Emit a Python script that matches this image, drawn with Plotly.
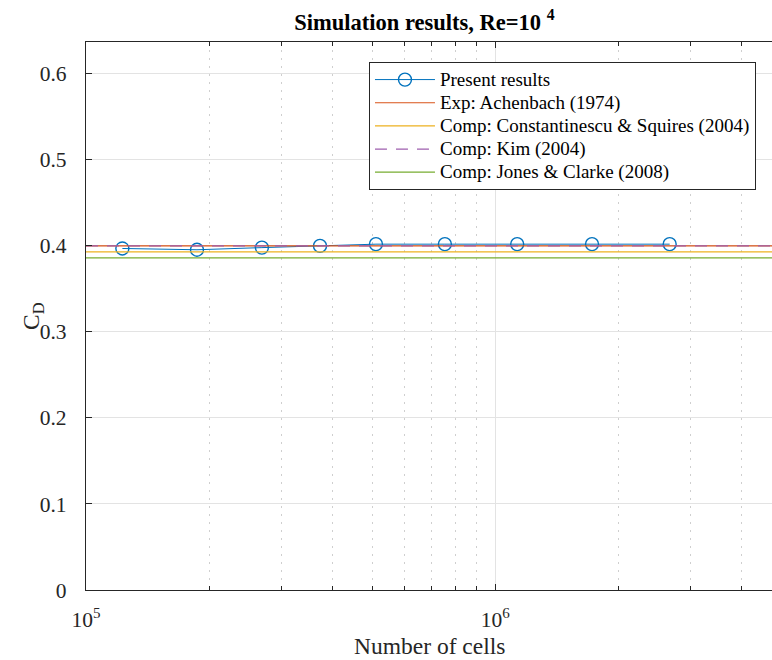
import plotly.graph_objects as go

# ---- data ----
cells = [1.227e5, 1.867e5, 2.69e5, 3.73e5, 5.11e5, 7.53e5, 1.131e6, 1.723e6, 2.667e6]
cd_present = [0.397, 0.3955, 0.398, 0.400, 0.402, 0.402, 0.402, 0.402, 0.402]

ref_x = [1e5, 1e7]
cd_achenbach = 0.400
cd_constantinescu = 0.393
cd_kim = 0.400
cd_jones = 0.386

series_names = ["Present results", "Exp: Achenbach (1974)", "Comp: Constantinescu & Squires (2004)",
                "Comp: Kim (2004)", "Comp: Jones & Clarke (2008)"]

x_tick_vals = [1e5, 1e6]
x_tick_text = ["10<sup>5</sup>", "10<sup>6</sup>"]
y_tick_vals = [0, 0.1, 0.2, 0.3, 0.4, 0.5, 0.6]
y_tick_text = ["0", "0.1", "0.2", "0.3", "0.4", "0.5", "0.6"]
minor_mult = [2, 3, 4, 5, 6, 7, 8, 9]
minor_decades = [1e5, 1e6]

FONT = "Liberation Serif"
AX = "#262626"


def lg(name):
    return '<span style="font-size:19px">' + name.replace("&", "&amp;") + "</span>"


fig = go.Figure()
fig.add_trace(go.Scatter(
    x=cells, y=cd_present, mode="lines+markers", name=lg(series_names[0]),
    line=dict(color="#0072BD", width=1),
    marker=dict(symbol="circle-open", size=13, color="#0072BD", line=dict(width=1.4, color="#0072BD")),
))
fig.add_trace(go.Scatter(x=ref_x, y=[cd_achenbach] * 2, mode="lines", name=lg(series_names[1]),
                         line=dict(color="#D95319", width=1.2)))
fig.add_trace(go.Scatter(x=ref_x, y=[cd_constantinescu] * 2, mode="lines", name=lg(series_names[2]),
                         line=dict(color="#EDB120", width=1.3)))
fig.add_trace(go.Scatter(x=ref_x, y=[cd_kim] * 2, mode="lines", name=lg(series_names[3]),
                         line=dict(color="#9E5FAE", width=1.2, dash="12px,9px")))
fig.add_trace(go.Scatter(x=ref_x, y=[cd_jones] * 2, mode="lines", name=lg(series_names[4]),
                         line=dict(color="#77AC30", width=1.2)))

minor_vals = [d * m for d in minor_decades for m in minor_mult]

fig.update_layout(
    width=772, height=660,
    margin=dict(l=86, r=0, t=42, b=70),
    paper_bgcolor="white", plot_bgcolor="white",
    font=dict(family=FONT, size=21, color="#262626"),
    showlegend=True,
    title=dict(text="<b>Simulation results, Re=10 <sup>4</sup></b>", x=0.4934, xref="paper",
               xanchor="center", y=1 - 22 / 660, yref="container", yanchor="middle",
               font=dict(family=FONT, size=22.5, color="black")),
    legend=dict(x=0.4125, y=0.9635, xanchor="left", yanchor="top",
                bgcolor="white", bordercolor=AX, borderwidth=1,
                font=dict(family=FONT, size=15.5, color="black"),
                itemwidth=60, tracegroupgap=0),
    xaxis=dict(
        type="log", range=[5, 6.676],
        tickmode="array", tickvals=x_tick_vals, ticktext=x_tick_text,
        ticks="inside", ticklen=6, tickcolor=AX, tickwidth=1,
        showline=True, linecolor=AX, linewidth=1.3, mirror="ticks",
        showgrid=True, gridcolor="#e3e3e3", gridwidth=1,
        zeroline=False,
        minor=dict(tickmode="array", tickvals=minor_vals, ticks="inside", ticklen=4,
                   tickcolor=AX, showgrid=True, gridcolor="#cfcfcf", griddash="2px,6px", gridwidth=1),
        tickfont=dict(family=FONT, size=21.5, color="#262626"),
        ticklabelstandoff=10,
        automargin=False,
    ),
    yaxis=dict(
        range=[0, 0.637],
        tickmode="array", tickvals=y_tick_vals, ticktext=y_tick_text,
        ticks="inside", ticklen=6, tickcolor=AX, tickwidth=1,
        showline=True, linecolor=AX, linewidth=1.3, mirror=False,
        showgrid=True, gridcolor="#e3e3e3", gridwidth=1,
        zeroline=False,
        tickfont=dict(family=FONT, size=21.5, color="#262626"),
        ticklabelstandoff=14,
        automargin=False,
    ),
    annotations=[
        dict(text="Number of cells", xref="paper", yref="paper", x=0.5007, y=-56 / 548,
             xanchor="center", yanchor="middle", showarrow=False,
             font=dict(family=FONT, size=23.5, color="#262626")),
        dict(text="C<sub>D</sub>", xref="paper", yref="paper", x=-53 / 686, y=0.5,
             xanchor="center", yanchor="middle", showarrow=False, textangle=-90,
             font=dict(family=FONT, size=23.5, color="#262626")),
    ],
)

fig.write_html("out.html")
